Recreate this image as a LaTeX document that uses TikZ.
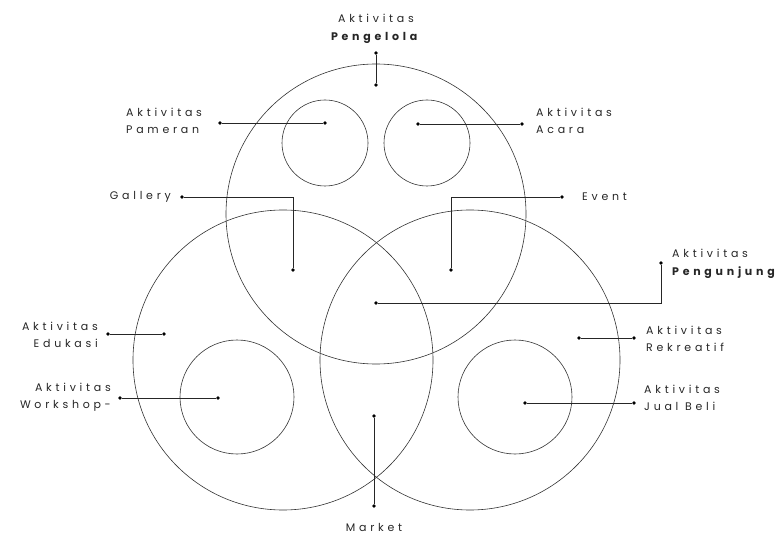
\documentclass[tikz,border=0pt]{standalone}
\usepackage{fontspec}
\usepackage{xcolor}
\usepackage{tikz}
\usetikzlibrary{positioning}
\newfontfamily\labelfont[LetterSpace=34]{Poppins}

\begin{document}
\begin{tikzpicture}[
    x=1pt, y=-1pt,
    zone/.style={circle, draw=black!80, line width=0.6pt, inner sep=0pt},
    dot/.style={circle, fill=black, inner sep=0pt, minimum size=3.8pt},
    link/.style={draw=black!85, line width=0.6pt},
    lbl/.style={font=\labelfont\fontsize{11}{17.5}\selectfont, text=black!85,
                inner sep=0pt}
  ]
  \useasboundingbox (0,0) rectangle (784,537);

  % big circles
  \node[zone, minimum size=300pt] (pengelola) at (376,214) {};
  \node[zone, minimum size=300pt] (gallery) at (283,360) {};
  \node[zone, minimum size=300pt] (event) at (470,360) {};
  % small circles
  \node[zone, minimum size=86pt] (pameran) at (325,143) {};
  \node[zone, minimum size=86pt] (acara) at (427,143) {};
  \node[zone, minimum size=114pt] (workshop) at (237,397) {};
  \node[zone, minimum size=114pt] (jualbeli) at (515,397) {};

  % dots
  \node[dot] (pengelolaA) at (376,53) {};
  \node[dot] (pengelolaB) at (376,85) {};
  \node[dot] (pameranA) at (220,123) {};
  \node[dot] (pameranB) at (325,123) {};
  \node[dot] (acaraA) at (418,124) {};
  \node[dot] (acaraB) at (522,124) {};
  \node[dot] (galleryA) at (182,197) {};
  \node[dot] (galleryB) at (293,270) {};
  \node[dot] (eventA) at (562,197) {};
  \node[dot] (eventB) at (451,270) {};
  \node[dot] (pengunjungA) at (661,263) {};
  \node[dot] (pengunjungB) at (376,303) {};
  \node[dot] (edukasiA) at (108,334) {};
  \node[dot] (edukasiB) at (164,334) {};
  \node[dot] (rekreatifA) at (579,338) {};
  \node[dot] (rekreatifB) at (634,338) {};
  \node[dot] (workshopA) at (120,398) {};
  \node[dot] (workshopB) at (218,398) {};
  \node[dot] (jualbeliA) at (525,403) {};
  \node[dot] (jualbeliB) at (634,403) {};
  \node[dot] (marketA) at (374,416) {};
  \node[dot] (marketB) at (374,506) {};

  % connectors
  \draw[link] (pengelolaA) -- (pengelolaB);
  \draw[link] (pameranA) -- (pameranB);
  \draw[link] (acaraA) -- (acaraB);
  \draw[link] (galleryA) -| (galleryB);
  \draw[link] (eventA) -| (eventB);
  \draw[link] (pengunjungA) |- (pengunjungB);
  \draw[link] (edukasiA) -- (edukasiB);
  \draw[link] (rekreatifA) -- (rekreatifB);
  \draw[link] (workshopA) -- (workshopB);
  \draw[link] (jualbeliA) -- (jualbeliB);
  \draw[link] (marketA) -- (marketB);

  % labels
  \node[lbl, align=center] (pengelolaT) at (376,29) {Aktivitas\\\textbf{Pengelola}};
  \node[lbl, align=left, anchor=west] (pameranT) at (126,121) {Aktivitas\\Pameran};
  \node[lbl, align=left, anchor=west] (acaraT) at (536,121) {Aktivitas\\Acara};
  \node[lbl, anchor=east] (galleryT) at (171,197) {Gallery};
  \node[lbl, anchor=west] (eventT) at (582,197) {Event};
  \node[lbl, align=left, anchor=west] (pengunjungT) at (672,264) {Aktivitas\\\textbf{Pengunjung}};
  \node[lbl, align=right, anchor=east] (edukasiT) at (98,335) {Aktivitas\\Edukasi};
  \node[lbl, align=left, anchor=west] (rekreatifT) at (646,339) {Aktivitas\\Rekreatif};
  \node[lbl, align=right, anchor=east] (workshopT) at (111,397) {Aktivitas\\Workshop-};
  \node[lbl, align=left, anchor=west] (jualbeliT) at (644,398) {Aktivitas\\Jual Beli};
  \node[lbl] (marketT) at (374,527) {Market};
\end{tikzpicture}
\end{document}
